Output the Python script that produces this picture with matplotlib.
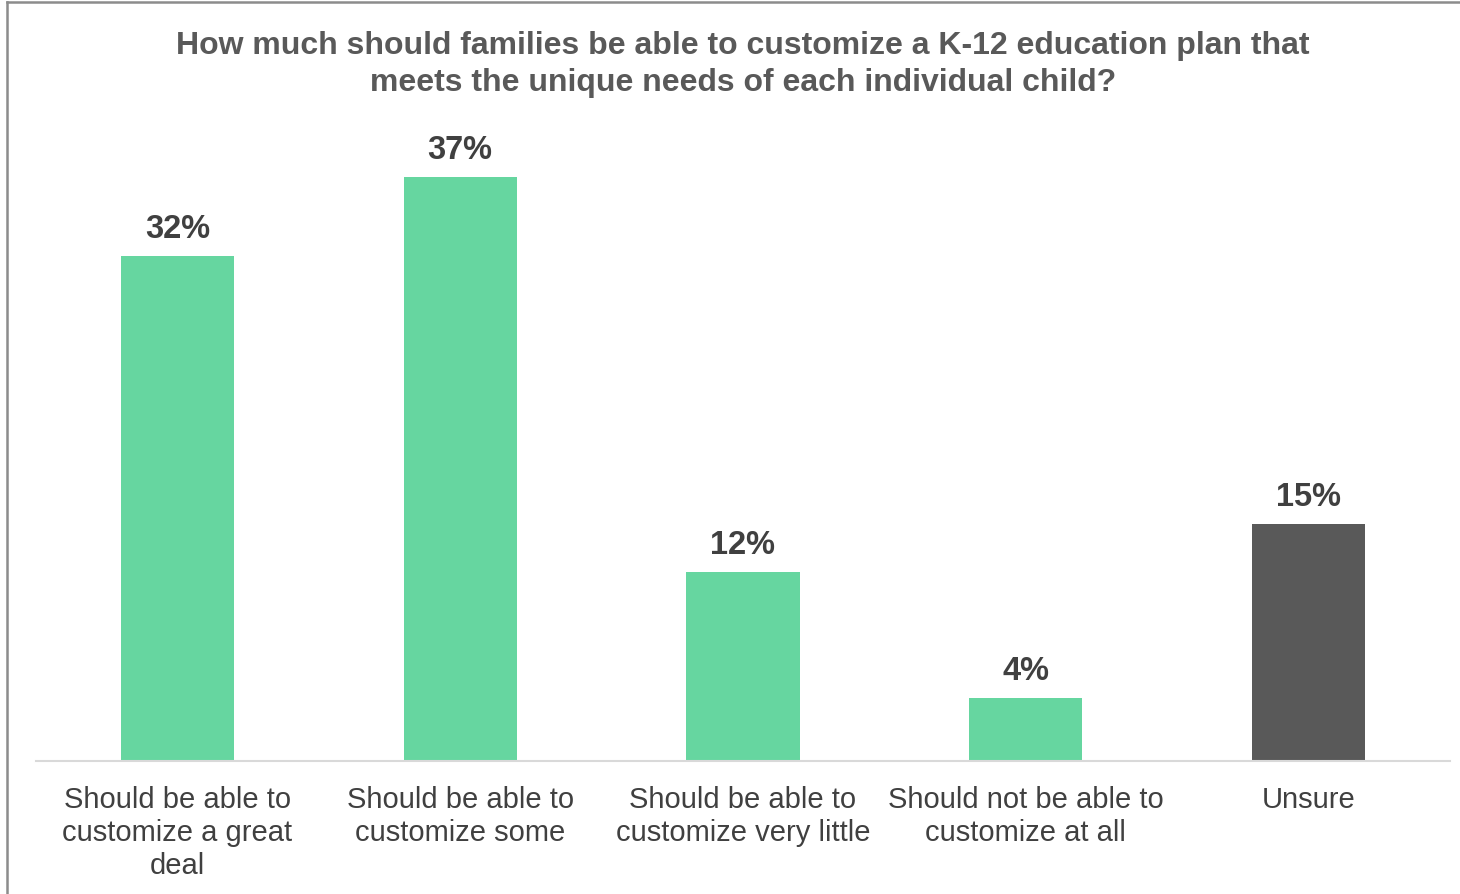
import matplotlib.pyplot as plt
from matplotlib.lines import Line2D

plt.rcParams['font.family'] = ['Liberation Sans', 'DejaVu Sans']

categories = ['Should be able to\ncustomize a great\ndeal',
              'Should be able to\ncustomize some',
              'Should be able to\ncustomize very little',
              'Should not be able to\ncustomize at all',
              'Unsure']
values = [32, 37, 12, 4, 15]
labels = ['32%', '37%', '12%', '4%', '15%']
colors = ['#66D6A0', '#66D6A0', '#66D6A0', '#66D6A0', '#595959']

W, H = 1460, 895
fig = plt.figure(figsize=(W / 100, H / 100), dpi=100)

# axes placed in pixel terms: baseline at y=762, x from 36 to 1450
x0, x1 = 36, 1450
y_base = 762
px_per_pct = 15.78
ymax = 40
ax = fig.add_axes([x0 / W, (H - y_base) / H, (x1 - x0) / W, ymax * px_per_pct / H])

pos = list(range(len(values)))
bars = ax.bar(pos, values, width=0.4, color=colors, zorder=2)
ax.set_xlim(-0.5, 4.5)
ax.set_ylim(0, ymax)

for b, lab in zip(bars, labels):
    ax.annotate(lab, (b.get_x() + b.get_width() / 2, b.get_height()),
                xytext=(0, 8.5), textcoords='offset points',
                ha='center', va='bottom', fontsize=23.5, fontweight='bold',
                color='#404040')

ax.set_xticks(pos)
ax.set_xticklabels(categories, fontsize=21, color='#404040', linespacing=1.22)
ax.tick_params(axis='x', length=0, pad=17.5)
ax.set_yticks([])
for s in ['top', 'right', 'left']:
    ax.spines[s].set_visible(False)
ax.spines['bottom'].set_color('#D9D9D9')
ax.spines['bottom'].set_linewidth(1.5)

fig.text(743 / W, 1 - 64.5 / H,
         'How much should families be able to customize a K-12 education plan that\n'
         'meets the unique needs of each individual child?',
         ha='center', va='center', fontsize=23, fontweight='bold',
         color='#595959', linespacing=1.31)

# frame around the chart (top and left edges)
fig.add_artist(Line2D([7 / W, 1], [1 - 3 / H, 1 - 3 / H], color='#8C8C8C', lw=1.8,
                      transform=fig.transFigure))
fig.add_artist(Line2D([7 / W, 7 / W], [0, 1 - 3 / H], color='#8C8C8C', lw=1.8,
                      transform=fig.transFigure))

fig.savefig('out.png', dpi=100)
